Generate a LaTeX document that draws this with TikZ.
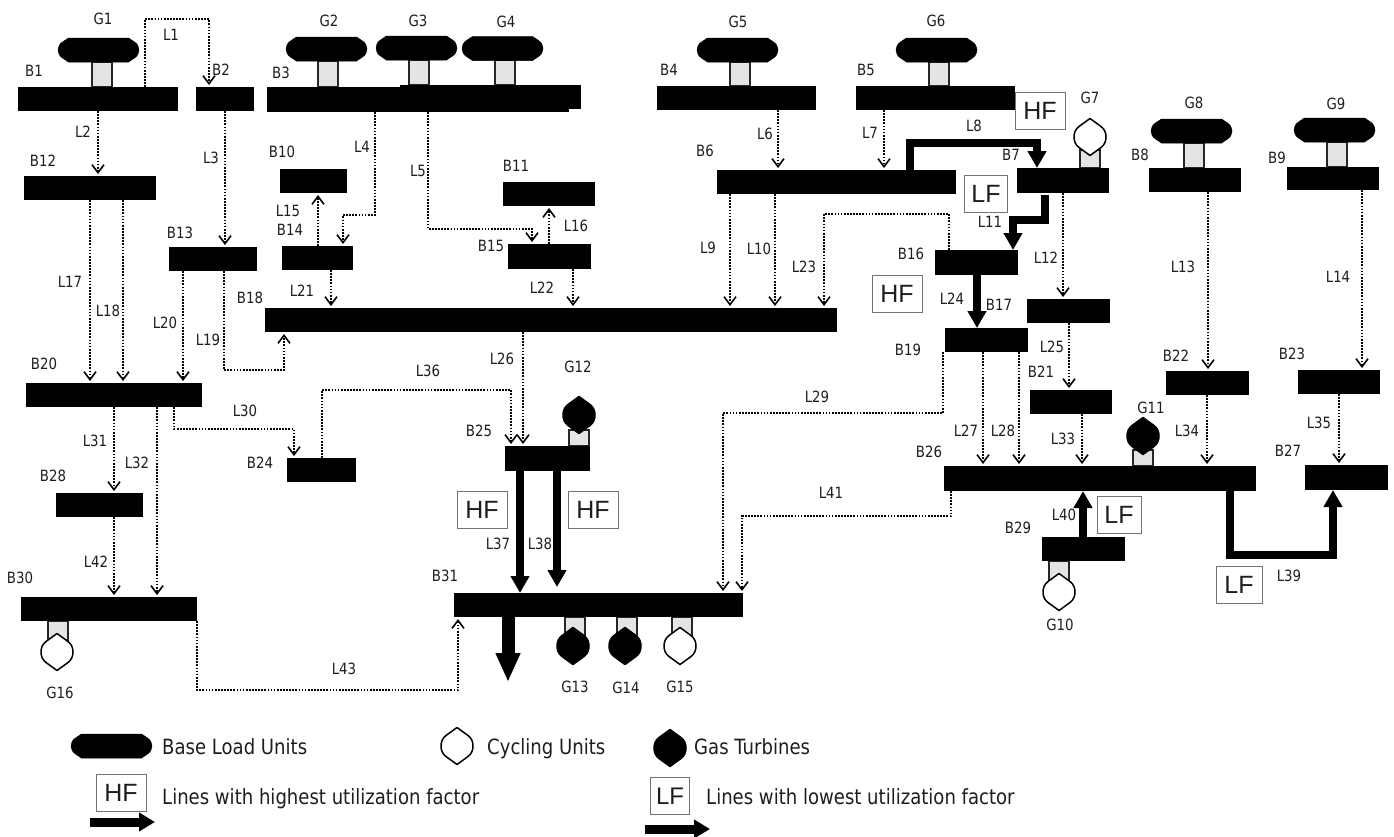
\documentclass[tikz,border=0pt]{standalone}
\usepackage{fontspec}
\setmainfont[FakeStretch=0.86]{DejaVu Sans}
\newfontfamily\boxfont{Liberation Sans}
\usetikzlibrary{arrows.meta}
\definecolor{ink}{HTML}{1E1E1E}
\definecolor{stemfill}{HTML}{E4E4E4}
\tikzset{
  busbar/.style={fill=black,draw=none,inner sep=0pt,outer sep=0pt},
  stembox/.style={fill=stemfill,draw=black!85,line width=1.5pt,inner sep=0pt,outer sep=0pt,minimum width=20pt},
  lbl/.style={inner sep=0pt,text=ink,font=\fontsize{15.5}{17}\selectfont},
  legtext/.style={inner sep=0pt,anchor=base west,text=ink,font=\fontsize{21}{24}\selectfont},
  flagbox/.style={draw=black!55,line width=0.9pt,fill=white,inner sep=0pt,text=ink,font=\boxfont\fontsize{25}{27}\selectfont},
  dotline/.style={line width=1.8pt,dash pattern=on 1.7pt off 1.4pt,black,shorten >=2pt,
     -{Straight Barb[length=8pt,width=12pt,line width=1.6pt]}},
  heavy/.style={line width=8pt,black,-{Triangle[length=17pt,width=18pt]}},
  unitshape/.style={line width=1.5pt,draw=black,line join=round},
  pics/baseunit/.style={code={
    \path[fill=black,draw=black,line width=0.5pt,line join=round] (-30,-12) -- (30,-12) -- (36,-8)
      .. controls (39,-6) and (40.5,-3) .. (40.5,0) .. controls (40.5,3) and (39,6) .. (36,8) -- (30,12)
      -- (-30,12) -- (-36,8) .. controls (-39,6) and (-40.5,3) .. (-40.5,0) .. controls (-40.5,-3) and (-39,-6) .. (-36,-8) -- cycle;}},
  pics/lens/.style={code={
    \path[unitshape,#1] (0,-18.5) -- (11,-10.5) .. controls (14.5,-8) and (16,-4) .. (16,0)
      .. controls (16,4) and (14.5,8) .. (11,10.5) -- (0,18.5) -- (-11,10.5)
      .. controls (-14.5,8) and (-16,4) .. (-16,0) .. controls (-16,-4) and (-14.5,-8) .. (-11,-10.5) -- cycle;}},
}
\begin{document}
\begin{tikzpicture}[x=1pt,y=-1pt]
\useasboundingbox (0,0) rectangle (1394,836);
% stems
\foreach \n/\c/\a/\b in {sa/102/62/87,sb/328/61/87,sc/419/60/85,sd/505/60/85,se/740/62/86,sf/939/62/86,
  sg/1090/150/168,sh/1194/143/168,si/1337/142/167,sj/1059/561/580,sk/1143/450/466,sl/579/430/446,
  sm/575/617/636,sn/627/617/636,so/682/617/636,sp/58/621/640}
  \node[stembox,minimum height={(\b-\a)*1pt}] (\n) at (\c,{(\a+\b)/2}) {};
% buses
\foreach \n/\a/\b/\c/\d in {B1/18/87/178/111,B2/196/87/254/111,B3/267/87/569/112,B3x/400/85/581/109,
  B4/657/86/816/110,B5/856/86/1015/110,B6/717/170/956/194,B7/1017/168/1109/193,B8/1149/168/1241/192,
  B9/1287/167/1379/190,B10/280/169/347/193,B11/503/182/595/206,B12/24/176/156/200,B13/169/247/257/271,
  B14/282/246/353/270,B15/508/244/591/269,B16/935/250/1018/275,B17/1027/299/1110/323,B18/265/308/837/332,
  B19/945/328/1028/352,B20/26/383/202/407,B21/1030/390/1112/414,B22/1166/371/1249/395,B23/1298/370/1380/394,
  B24/287/458/356/482,B25/505/446/590/471,B26/944/466/1256/491,B27/1305/465/1388/490,B28/56/493/143/517,
  B29/1042/537/1125/561,B30/21/597/197/621,B31/454/593/743/617}
  \node[busbar,minimum width={(\c-\a)*1pt},minimum height={(\d-\b)*1pt}] (\n) at ({(\a+\c)/2},{(\b+\d)/2}) {};
% generators
\foreach \n/\x/\y in {u1/98.5/50,u2/326.5/49,u3/416.5/48,u4/502.5/48.5,u5/737.5/50,u6/936.5/50,u8/1191.5/131,u9/1334.5/130}
  \pic (\n) at (\x,\y) {baseunit};
\foreach \n/\x/\y in {u7/1090/137,u10/1059/592,u15/680/646,u16/57/652}
  \pic (\n) at (\x,\y) {lens={fill=white}};
\foreach \n/\x/\y in {u11/1143/436,u12/579/415,u13/573/646,u14/625/646}
  \pic (\n) at (\x,\y) {lens={fill=black}};
% dotted lines
\draw[dotline] (145,0 |- B1.north) -- (145,19) -- (209,19) -- (209,0 |- B2.north);
\draw[dotline] (98,0 |- B1.south) -- (98,0 |- B12.north);
\draw[dotline] (225,0 |- B2.south) -- (225,0 |- B13.north);
\draw[dotline] (375,0 |- B3.south) -- (375,215) -- (343,215) -- (343,0 |- B14.north);
\draw[dotline] (428,0 |- B3.south) -- (428,229) -- (532,229) -- (532,0 |- B15.north);
\draw[dotline] (778,0 |- B4.south) -- (778,0 |- B6.north);
\draw[dotline] (884,0 |- B5.south) -- (884,0 |- B6.north);
\draw[dotline] (730,0 |- B6.south) -- (730,0 |- B18.north);
\draw[dotline] (775,0 |- B6.south) -- (775,0 |- B18.north);
\draw[dotline] (1063,0 |- B7.south) -- (1063,0 |- B17.north);
\draw[dotline] (1208,0 |- B8.south) -- (1208,0 |- B22.north);
\draw[dotline] (1362,0 |- B9.south) -- (1362,0 |- B23.north);
\draw[dotline] (318,0 |- B14.north) -- (318,0 |- B10.south);
\draw[dotline] (549,0 |- B15.north) -- (549,0 |- B11.south);
\draw[dotline] (90,0 |- B12.south) -- (90,0 |- B20.north);
\draw[dotline] (123,0 |- B12.south) -- (123,0 |- B20.north);
\draw[dotline] (224,0 |- B13.south) -- (224,370) -- (284,370) -- (284,0 |- B18.south);
\draw[dotline] (183,0 |- B13.south) -- (183,0 |- B20.north);
\draw[dotline] (331,0 |- B14.south) -- (331,0 |- B18.north);
\draw[dotline] (573,0 |- B15.south) -- (573,0 |- B18.north);
\draw[dotline] (949,0 |- B16.north) -- (949,214) -- (824,214) -- (824,0 |- B18.north);
\draw[dotline] (1069,0 |- B17.south) -- (1069,0 |- B21.north);
\draw[dotline] (523,0 |- B18.south) -- (523,0 |- B25.north);
\draw[dotline] (983,0 |- B19.south) -- (983,0 |- B26.north);
\draw[dotline] (1019,0 |- B19.south) -- (1019,0 |- B26.north);
\draw[dotline] (943,0 |- B19.south) -- (943,413) -- (723,413) -- (723,0 |- B31.north);
\draw[dotline] (174,0 |- B20.south) -- (174,429) -- (294,429) -- (294,0 |- B24.north);
\draw[dotline] (114,0 |- B20.south) -- (114,0 |- B28.north);
\draw[dotline] (157,0 |- B20.south) -- (157,0 |- B30.north);
\draw[dotline] (1082,0 |- B21.south) -- (1082,0 |- B26.north);
\draw[dotline] (1207,0 |- B22.south) -- (1207,0 |- B26.north);
\draw[dotline] (1339,0 |- B23.south) -- (1339,0 |- B27.north);
\draw[dotline] (322,0 |- B24.north) -- (322,390) -- (511,390) -- (511,0 |- B25.north);
\draw[dotline] (951,0 |- B26.south) -- (951,516) -- (742,516) -- (742,0 |- B31.north);
\draw[dotline] (114,0 |- B28.south) -- (114,0 |- B30.north);
\draw[dotline] (197,0 |- B30.south) -- (197,690) -- (458,690) -- (458,0 |- B31.south);
% heavy lines
\draw[heavy] (910,0 |- B6.north) -- (910,143) -- (1037,143) -- (1037,0 |- B7.north);
\draw[heavy] (1045,0 |- B7.south) ++(0,2) -- (1045,220) -- (1013,220) -- (1013,0 |- B16.north);
\draw[heavy] (977,0 |- B16.south) -- (977,0 |- B19.north);
\draw[heavy] (520,0 |- B25.south) -- (520,0 |- B31.north);
\draw[heavy] (557,0 |- B25.south) -- (557,587);
\draw[heavy] (1230,0 |- B26.south) -- (1230,555) -- (1333,555) -- (1333,0 |- B27.south);
\draw[heavy] (1083,0 |- B29.north) -- (1083,0 |- B26.south);
\coordinate (load) at (508,682);
\draw[line width=13pt,black,-{Triangle[length=29pt,width=23pt]}] (508,0 |- B31.south) -- (load);
% labels
\foreach \t/\x/\y in {G1/103/19,L1/171/35,B1/34/71,B2/221/70,B3/281/73,G2/329/21,G3/418/21,G4/506/22,B4/669/70,G5/738/22,
  B5/866/70,G6/936/21,G7/1090/98,L8/974/126,B7/1011/155,L7/870/133,L6/765/134,G8/1194/103,G9/1336/104,B8/1140/155,B9/1277/158,
  B6/705/151,L2/83/132,B12/43/161,L3/211/158,L4/362/147,B10/282/152,L5/418/171,B11/516/166,L15/288/211,B14/290/230,L16/576/226,
  B13/180/233,B15/491/246,L9/708/248,L10/759/249,L23/804/267,L11/990/222,L12/1046/258,B16/911/254,L13/1183/267,L14/1338/277,
  L17/70/282,L18/108/311,L20/165/323,L19/208/340,L21/302/291,L22/542/288,B18/250/298,L24/952/299,B17/999/305,B19/908/350,
  L25/1052/347,B21/1041/372,B22/1176/356,B23/1292/354,B20/44/364,L26/502/359,G12/578/367,B25/479/431,L36/428/371,L29/817/397,
  L30/245/411,L31/95/441,L32/137/463,L27/966/431,L28/1003/431,L33/1063/439,L34/1187/431,L35/1319/423,G11/1151/408,B26/929/452,
  B27/1288/451,B24/260/463,B28/53/476,L41/831/493,L37/498/544,L38/540/544,B29/1018/528,L40/1064/515,B30/20/578,B31/445/576,
  L42/96/562,L39/1289/576,G10/1060/625,L43/344/669,G16/60/693,G13/575/687,G14/626/688,G15/680/687}
  \node[lbl] (t\t) at (\x,\y) {\t};
% flags
\node[flagbox,minimum width=50pt,minimum height=37pt] (f1) at (1040,111) {HF};
\node[flagbox,minimum width=43pt,minimum height=37pt] (f2) at (986,194) {LF};
\node[flagbox,minimum width=50pt,minimum height=37pt] (f3) at (897,294) {HF};
\node[flagbox,minimum width=50pt,minimum height=37pt] (f4) at (482,510) {HF};
\node[flagbox,minimum width=50pt,minimum height=37pt] (f5) at (593,510) {HF};
\node[flagbox,minimum width=44pt,minimum height=37pt] (f6) at (1119,515) {LF};
\node[flagbox,minimum width=46pt,minimum height=37pt] (f7) at (1239,585) {LF};
% legend
\pic (lb) at (111.5,746) {baseunit};
\pic (lc) at (457,746) {lens={fill=white}};
\pic (lg) at (670,748) {lens={fill=black}};
\node[legtext] (n1) at (162,754) {Base Load Units};
\node[legtext] (n2) at (487,754) {Cycling Units};
\node[legtext] (n3) at (694,754) {Gas Turbines};
\node[flagbox,minimum width=50pt,minimum height=37pt] (f8) at (121,793) {HF};
\node[flagbox,minimum width=39pt,minimum height=37pt,font=\boxfont\fontsize{24}{26}\selectfont] (f9) at (670,796) {LF};
\node[legtext] (n4) at (162,804) {Lines with highest utilization factor};
\node[legtext] (n5) at (706,804) {Lines with lowest utilization factor};
\coordinate (ha) at (90,822); \coordinate (hb) at (155,822);
\coordinate (la) at (645,829); \coordinate (lb2) at (710,829);
\draw[line width=9pt,black,-{Triangle[length=16pt,width=18pt]}] (ha) -- (hb);
\draw[line width=9pt,black,-{Triangle[length=16pt,width=18pt]}] (la) -- (lb2);
\end{tikzpicture}
\end{document}
